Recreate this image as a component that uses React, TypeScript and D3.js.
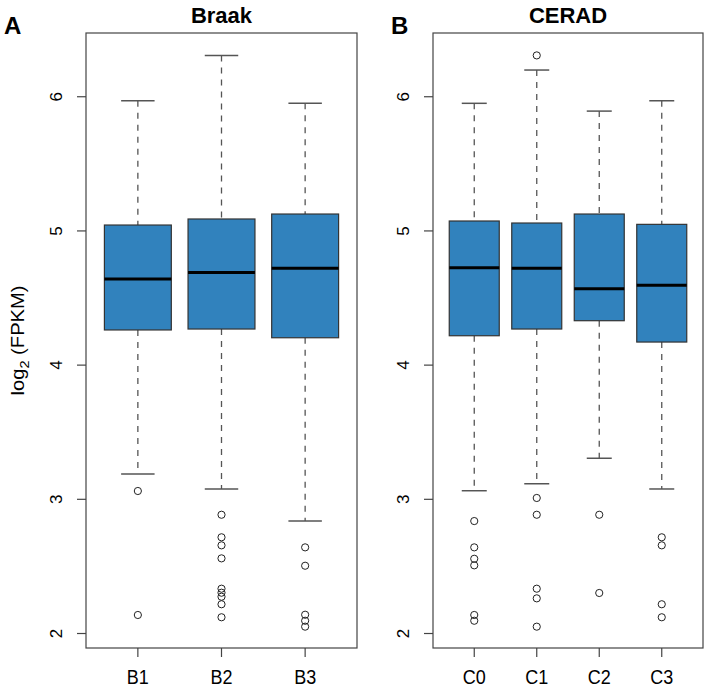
import React from "react";
import * as d3 from "d3";

// ---- Data (log2 FPKM) ----
const braakCats = ["B1", "B2", "B3"];
const braakQ1 = [4.262, 4.269, 4.204];
const braakMed = [4.642, 4.691, 4.721];
const braakQ3 = [5.044, 5.089, 5.126];
const braakLo = [3.189, 3.077, 2.838];
const braakHi = [5.970, 6.308, 5.951];
const braakOut = [
  [3.062, 2.138],
  [2.885, 2.717, 2.657, 2.560, 2.334, 2.304, 2.274, 2.218, 2.121],
  [2.642, 2.505, 2.140, 2.095, 2.051],
];

const ceradCats = ["C0", "C1", "C2", "C3"];
const ceradQ1 = [4.219, 4.269, 4.331, 4.172];
const ceradMed = [4.726, 4.721, 4.569, 4.595];
const ceradQ3 = [5.074, 5.059, 5.126, 5.049];
const ceradLo = [3.064, 3.116, 3.306, 3.077];
const ceradHi = [5.951, 6.199, 5.893, 5.970];
const ceradOut = [
  [2.838, 2.642, 2.557, 2.508, 2.138, 2.095],
  [6.308, 3.010, 2.885, 2.334, 2.262, 2.051],
  [2.885, 2.302],
  [2.717, 2.657, 2.218, 2.121],
];

const yTicks = [2, 3, 4, 5, 6];
const yDomain = [1.892, 6.475];

const FONT = "'Liberation Sans', Arial, Helvetica, sans-serif";
const BOX_FILL = "#3182BD";

type PanelProps = {
  x0: number;
  x1: number;
  title: string;
  letter: string;
  letterX: number;
  cats: string[];
  q1: number[];
  med: number[];
  q3: number[];
  lo: number[];
  hi: number[];
  out: number[][];
};

const TOP = 33;
const BOTTOM = 648;

function Panel(p: PanelProps) {
  const n = p.cats.length;
  const y = d3.scaleLinear().domain(yDomain).range([BOTTOM, TOP]);
  const pad = n * 0.04;
  const x = d3
    .scaleLinear()
    .domain([0.5 - pad, n + 0.5 + pad])
    .range([p.x0, p.x1]);
  const bw = (x(1) - x(0)) * 0.8;
  const cw = bw / 2;
  return (
    <g>
      <text
        x={(p.x0 + p.x1) / 2}
        y={23}
        textAnchor="middle"
        fontFamily={FONT}
        fontWeight="bold"
        fontSize={22}
      >
        {p.title}
      </text>
      <text x={p.letterX} y={34} fontFamily={FONT} fontWeight="bold" fontSize={24}>
        {p.letter}
      </text>
      {p.cats.map((c, i) => {
        const cx = x(i + 1);
        return (
          <g key={c}>
            <line
              x1={cx}
              x2={cx}
              y1={y(p.hi[i])}
              y2={y(p.q3[i])}
              stroke="#555"
              strokeWidth={1.3}
              strokeDasharray="6,6"
            />
            <line
              x1={cx}
              x2={cx}
              y1={y(p.q1[i])}
              y2={y(p.lo[i])}
              stroke="#555"
              strokeWidth={1.3}
              strokeDasharray="6,6"
            />
            <line x1={cx - cw / 2} x2={cx + cw / 2} y1={y(p.hi[i])} y2={y(p.hi[i])} stroke="#555" strokeWidth={1.5} />
            <line x1={cx - cw / 2} x2={cx + cw / 2} y1={y(p.lo[i])} y2={y(p.lo[i])} stroke="#555" strokeWidth={1.5} />
            <rect
              x={cx - bw / 2}
              y={y(p.q3[i])}
              width={bw}
              height={y(p.q1[i]) - y(p.q3[i])}
              fill={BOX_FILL}
              stroke="#333"
              strokeWidth={1.2}
            />
            <line
              x1={cx - bw / 2}
              x2={cx + bw / 2}
              y1={y(p.med[i])}
              y2={y(p.med[i])}
              stroke="#000"
              strokeWidth={3}
            />
            {p.out[i].map((v, k) => (
              <circle key={k} cx={cx} cy={y(v)} r={3.6} fill="none" stroke="#222" strokeWidth={1} />
            ))}
            <line x1={cx} x2={cx} y1={BOTTOM} y2={BOTTOM + 9} stroke="#444" strokeWidth={1.2} />
            <text
              transform={`translate(${cx},${BOTTOM + 36}) scale(1,1.1)`}
              textAnchor="middle"
              fontFamily={FONT}
              fontSize={18}
            >
              {c}
            </text>
          </g>
        );
      })}
      <rect
        x={p.x0}
        y={TOP}
        width={p.x1 - p.x0}
        height={BOTTOM - TOP}
        fill="none"
        stroke="#444"
        strokeWidth={1.2}
      />
      {yTicks.map((t) => (
        <g key={t}>
          <line x1={p.x0 - 9} x2={p.x0} y1={y(t)} y2={y(t)} stroke="#444" strokeWidth={1.2} />
          <text
            transform={`translate(${p.x0 - 28},${y(t)}) rotate(-90)`}
            textAnchor="middle"
            dominantBaseline="middle"
            fontFamily={FONT}
            fontSize={17}
          >
            {t}
          </text>
        </g>
      ))}
    </g>
  );
}

export default function App() {
  return (
    <svg
      width={709}
      height={689}
      style={{ position: "absolute", left: 0, top: 0, background: "#fff" }}
    >
      <rect width={709} height={689} fill="#fff" />
      <Panel
        x0={86}
        x1={357}
        title="Braak"
        letter="A"
        letterX={4}
        cats={braakCats}
        q1={braakQ1}
        med={braakMed}
        q3={braakQ3}
        lo={braakLo}
        hi={braakHi}
        out={braakOut}
      />
      <Panel
        x0={433}
        x1={703}
        title="CERAD"
        letter="B"
        letterX={391}
        cats={ceradCats}
        q1={ceradQ1}
        med={ceradMed}
        q3={ceradQ3}
        lo={ceradLo}
        hi={ceradHi}
        out={ceradOut}
      />
      <text
        transform={`translate(24,${(TOP + BOTTOM) / 2}) rotate(-90) scale(1.12,1)`}
        textAnchor="middle"
        fontFamily={FONT}
        fontSize={18}
      >
        log
        <tspan fontSize={13} dy={5}>2</tspan>
        <tspan dy={-5}> (FPKM)</tspan>
      </text>
    </svg>
  );
}
